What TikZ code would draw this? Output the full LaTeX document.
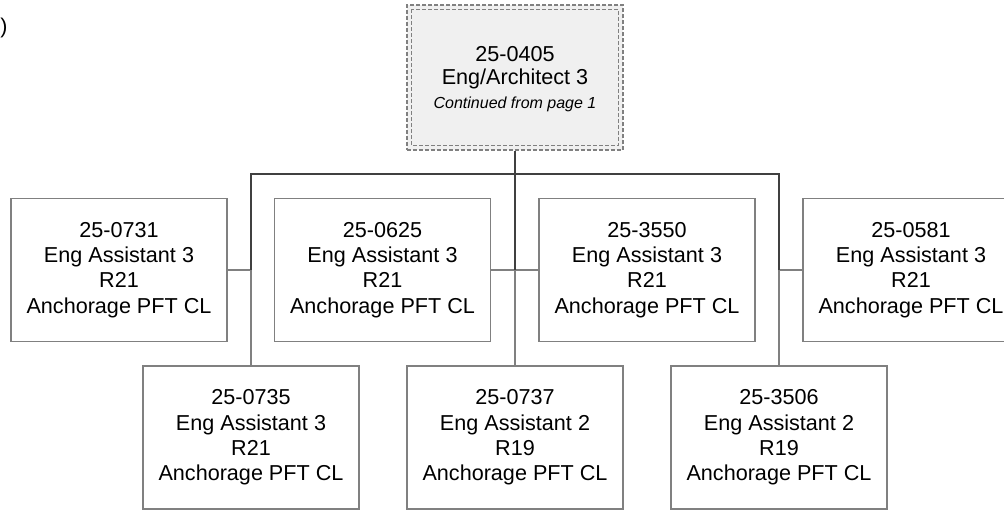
\documentclass[tikz,border=0pt]{standalone}
\usepackage{fontspec}
\setmainfont{Liberation Sans}
\definecolor{boxgray}{HTML}{808080}
\definecolor{linedark}{HTML}{404040}
\definecolor{fillgray}{HTML}{F0F0F0}
\begin{document}
\begin{tikzpicture}[x=0.75pt,y=-0.75pt,
  posbox/.style={draw=boxgray, line width=0.9pt, minimum width=162pt, minimum height=107.25pt,
    align=center, inner sep=0pt, font=\fontsize{16.2}{19}\selectfont, text=black},
  headbox/.style={draw=boxgray, line width=0.8pt, dash pattern=on 3pt off 1.5pt, fill=fillgray,
    minimum width=162pt, minimum height=108.75pt, align=center, inner sep=0pt,
    font=\fontsize{16.2}{17}\selectfont},
  headinner/.style={draw=boxgray, line width=0.8pt, dash pattern=on 3pt off 1.5pt},
  darkline/.style={draw=linedark, line width=1.1pt},
  grayline/.style={draw=boxgray, line width=0.9pt}]
\useasboundingbox (0,0) rectangle (1004,510);
\clip (0,0) rectangle (1004,510);

\node[anchor=west, inner sep=0pt, font=\fontsize{16}{19}\selectfont] (paren) at (0,28) {)};

\node[headbox] (head) at (515,77.5) {\rule{0pt}{14pt}25-0405\\Eng/Architect 3\\[1pt]{\fontsize{12}{14}\selectfont\itshape Continued from page 1}};
\draw[headinner] ([xshift=3.75pt,yshift=-3.75pt]head.north west) rectangle ([xshift=-3.75pt,yshift=3.75pt]head.south east);

\node[posbox] (a1) at (119,270) {25-0731\\Eng Assistant 3\\R21\\Anchorage PFT CL};
\node[posbox] (a2) at (382.5,270) {25-0625\\Eng Assistant 3\\R21\\Anchorage PFT CL};
\node[posbox] (a3) at (647,270) {25-3550\\Eng Assistant 3\\R21\\Anchorage PFT CL};
\node[posbox] (a4) at (911,270) {25-0581\\Eng Assistant 3\\R21\\Anchorage PFT CL};

\node[posbox] (b1) at (251,437.5) {25-0735\\Eng Assistant 3\\R21\\Anchorage PFT CL};
\node[posbox] (b2) at (515,437.5) {25-0737\\Eng Assistant 2\\R19\\Anchorage PFT CL};
\node[posbox] (b3) at (779,437.5) {25-3506\\Eng Assistant 2\\R19\\Anchorage PFT CL};

\coordinate (busL) at (251,174);
\coordinate (busM) at (515,174);
\coordinate (busR) at (779,174);
\coordinate (jL) at (251,270);
\coordinate (jM) at (515,270);
\coordinate (jR) at (779,270);

\draw[grayline] (a1.east) -- (jL) -- (b1.north);
\draw[grayline] (a2.east) -- (a3.west);
\draw[grayline] (jM) -- (b2.north);
\draw[grayline] (a4.west) -- (jR) -- (b3.north);

\draw[darkline] (head.south) -- (busM);
\draw[darkline] (jL) -- (busL) -- (busR) -- (jR);
\draw[darkline] (busM) -- (jM);
\end{tikzpicture}
\end{document}
